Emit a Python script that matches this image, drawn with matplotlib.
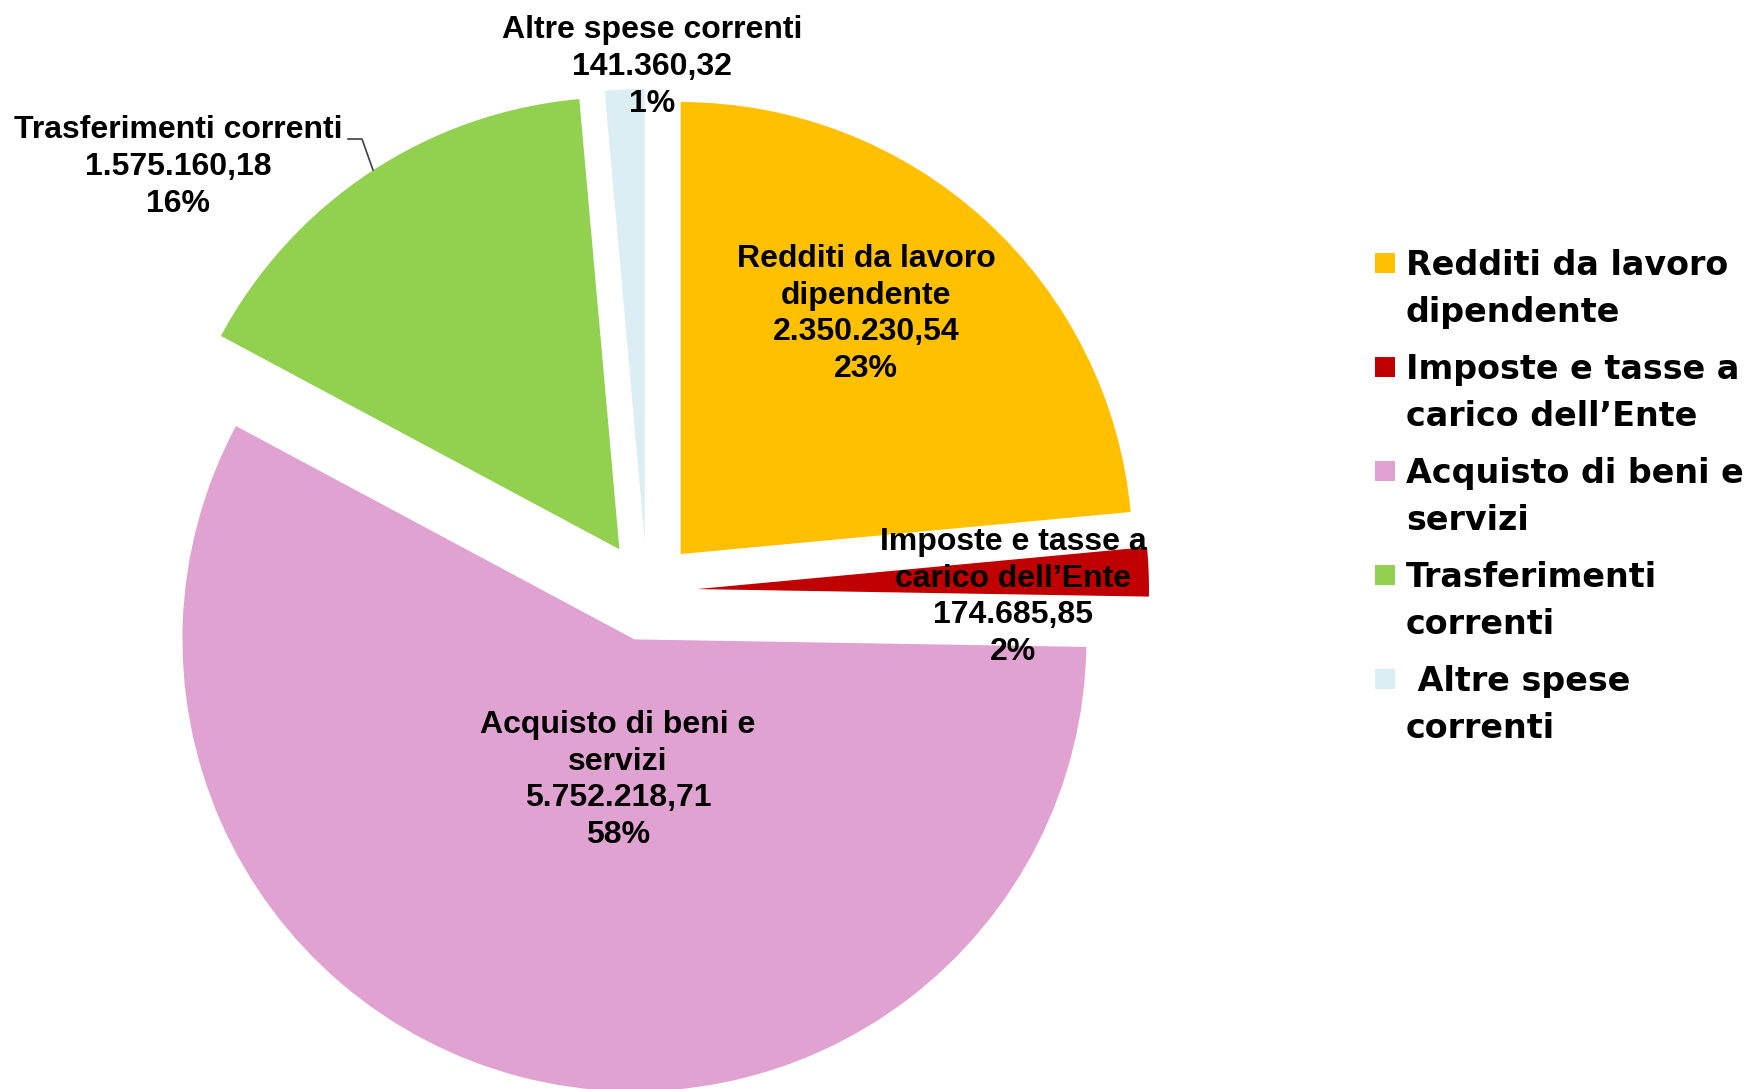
import matplotlib

matplotlib.use("Agg")
import matplotlib.pyplot as plt
from matplotlib.patches import Rectangle

# data
names = [
    "Redditi da lavoro\ndipendente",
    "Imposte e tasse a\ncarico dell\u2019Ente",
    "Acquisto di beni e\nservizi",
    "Trasferimenti correnti",
    "Altre spese correnti",
]
legend_names = [
    "Redditi da lavoro\ndipendente",
    "Imposte e tasse a\ncarico dell\u2019Ente",
    "Acquisto di beni e\nservizi",
    "Trasferimenti\ncorrenti",
    " Altre spese\ncorrenti",
]
values = [2350230.54, 174685.85, 5752218.71, 1575160.18, 141360.32]
percents = [23, 2, 58, 16, 1]
colors = ["#FFC000", "#C00000", "#E0A2D0", "#92D050", "#DAEEF3"]

W, H = 1753, 1089


def it_number(v):
    # 2350230.54 -> 2.350.230,54
    return f"{v:,.2f}".replace(",", "X").replace(".", ",").replace("X", ".")


fig = plt.figure(figsize=(W / 100, H / 100), dpi=100)
ax = fig.add_axes([0, 0, 1, 1])

ax.pie(values, colors=colors, startangle=90, counterclock=False,
       explode=[50] * len(values), radius=452, center=(647, H - 591),
       wedgeprops=dict(linewidth=0))
ax.set_xlim(0, W)
ax.set_ylim(0, H)
ax.set_aspect("auto")
ax.set_axis_off()

# label centres (pixels from top-left)
label_pos = [(866, 314), (1013, 597), (618, 780), (178, 167), (652, 67)]
lab_font = dict(family=["Liberation Sans", "DejaVu Sans"], fontsize=23, fontweight="bold")
for name, v, p, (x, y) in zip(names, values, percents, label_pos):
    ax.text(x, H - y, f"{name}\n{it_number(v)}\n{p}%", ha="center", va="center",
            linespacing=1.3, color="black", **lab_font)

# leader line for "Trasferimenti correnti"
ax.plot([348, 362, 373], [H - 139, H - 139, H - 170], color="#404040", lw=1.2)

# legend, drawn by hand so the square sits on the first line
leg_font = dict(family=["DejaVu Sans"], fontsize=24, fontweight="bold")
for i, (lab, c) in enumerate(zip(legend_names, colors)):
    yc = 289 + 104 * i
    ax.add_patch(Rectangle((1375, H - (yc - 26) - 10), 20, 20, facecolor=c, edgecolor="none"))
    ax.text(1406, H - yc, lab, ha="left", va="center", linespacing=1.55,
            color="black", **leg_font)

fig.savefig("out.png", dpi=100, facecolor="white")
